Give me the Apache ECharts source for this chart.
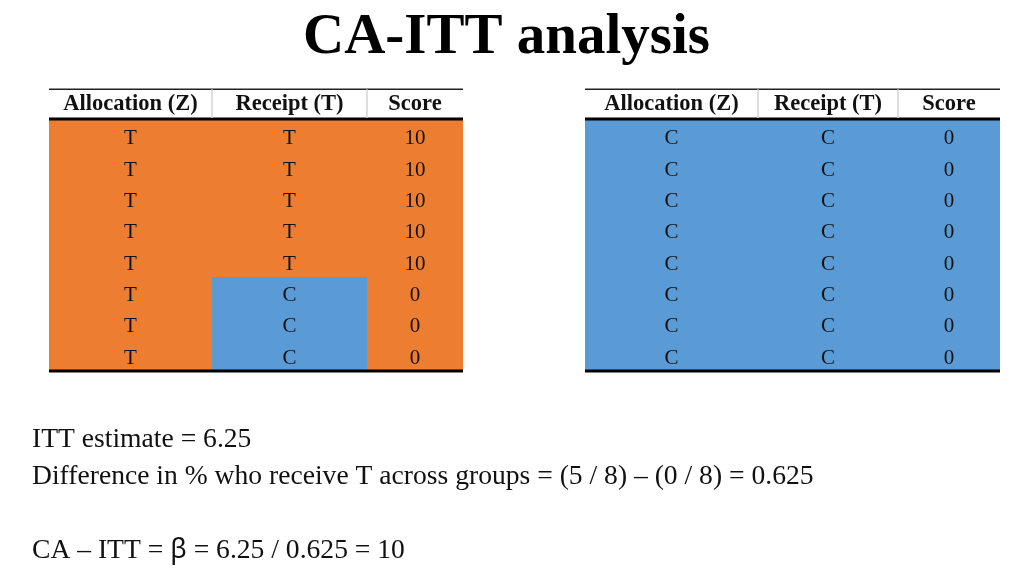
<!DOCTYPE html>
<html>
<head>
<meta charset="utf-8">
<script src="https://cdn.jsdelivr.net/npm/echarts@6/dist/echarts.min.js"></script>
<style>html,body{margin:0;padding:0;background:#fff;}#c{width:1024px;height:576px;}</style>
</head>
<body>
<div id="c"></div>
<script>
// ---------- data ----------
const titleText = 'CA-ITT analysis';
const headers = ['Allocation (Z)', 'Receipt (T)', 'Score'];
const rowLabels = ['1', '2', '3', '4', '5', '6', '7', '8'];
const leftAllocation = ['T', 'T', 'T', 'T', 'T', 'T', 'T', 'T'];
const leftReceipt = ['T', 'T', 'T', 'T', 'T', 'C', 'C', 'C'];
const leftScore = [10, 10, 10, 10, 10, 0, 0, 0];
const rightAllocation = ['C', 'C', 'C', 'C', 'C', 'C', 'C', 'C'];
const rightReceipt = ['C', 'C', 'C', 'C', 'C', 'C', 'C', 'C'];
const rightScore = [0, 0, 0, 0, 0, 0, 0, 0];
const noteLines = [
  'ITT estimate = 6.25',
  'Difference in % who receive T across groups = (5 / 8) – (0 / 8) = 0.625',
  '',
  'CA – ITT = β = 6.25 / 0.625 = 10'
];

// ---------- layout / style ----------
const FONT = '"Liberation Serif", "Times New Roman", serif';
const COLORS = { T: '#ED7D31', C: '#5B9BD5' };
const leftEdges = [0, 163 / 414, 318 / 414, 1];
const rightEdges = [0, 173 / 415, 313 / 415, 1];

function buildCells(alloc, receipt, score) {
  const cells = [];
  for (let r = 0; r < alloc.length; r++) {
    cells.push({ col: 0, row: r, text: alloc[r], key: alloc[r] });
    cells.push({ col: 1, row: r, text: receipt[r], key: receipt[r] });
    cells.push({ col: 2, row: r, text: String(score[r]), key: alloc[r] });
  }
  return cells;
}
const leftCells = buildCells(leftAllocation, leftReceipt, leftScore);
const rightCells = buildCells(rightAllocation, rightReceipt, rightScore);

function cellRenderer(edges, cells) {
  return function (params, api) {
    const c = cells[params.dataIndex];
    const x0 = Math.round(api.coord([edges[c.col], c.row])[0]);
    const x1 = Math.round(api.coord([edges[c.col + 1], c.row])[0]);
    const yc = api.coord([0, c.row])[1];
    const h = api.size([0, 1])[1];
    const y0 = Math.round(yc - h / 2), y1 = Math.round(yc + h / 2);
    return {
      type: 'group',
      children: [
        { type: 'rect', shape: { x: x0, y: y0, width: x1 - x0, height: y1 - y0 },
          style: { fill: COLORS[c.key] } },
        { type: 'text', z2: 10, style: { text: c.text, x: (x0 + x1) / 2, y: yc + 3, align: 'center', verticalAlign: 'middle',
          font: '21px ' + FONT, fill: '#111' } }
      ]
    };
  };
}

function headerRenderer(edges, nRows) {
  return function (params, api) {
    const col = params.dataIndex;
    const x0 = api.coord([edges[col], 0])[0];
    const x1 = api.coord([edges[col + 1], 0])[0];
    const h = api.size([0, 1])[1];
    const bodyTop = api.coord([0, 0])[1] - h / 2;
    const bodyBottom = api.coord([0, nRows - 1])[1] + h / 2;
    const headTop = bodyTop - h + 0.5;
    const children = [
      { type: 'text', style: { text: headers[col], x: (x0 + x1) / 2, y: (headTop + bodyTop) / 2, align: 'center',
        verticalAlign: 'middle', font: 'bold 22.5px ' + FONT, fill: '#111' } }
    ];
    if (col > 0) {
      children.push({ type: 'line', shape: { x1: x0, y1: headTop, x2: x0, y2: bodyTop - 2 },
        style: { stroke: '#d4d4d4', lineWidth: 1.5 } });
    }
    if (col === 0) {
      const L = api.coord([edges[0], 0])[0];
      const R = api.coord([edges[edges.length - 1], 0])[0];
      children.push({ type: 'line', shape: { x1: L, y1: headTop, x2: R, y2: headTop }, style: { stroke: '#222', lineWidth: 1.5 } });
      children.push({ type: 'line', shape: { x1: L, y1: bodyTop - 1, x2: R, y2: bodyTop - 1 }, style: { stroke: '#000', lineWidth: 3 } });
      children.push({ type: 'line', shape: { x1: L, y1: bodyBottom, x2: R, y2: bodyBottom }, style: { stroke: '#000', lineWidth: 3 } });
    }
    return { type: 'group', children };
  };
}

const chart = echarts.init(document.getElementById('c'), null, { renderer: 'canvas' });
const hiddenX = (i) => ({ type: 'value', gridIndex: i, min: 0, max: 1, show: false });
const hiddenY = (i) => ({ type: 'category', gridIndex: i, data: rowLabels, inverse: true, show: false });

chart.setOption({
  backgroundColor: '#fff',
  animation: false,
  title: [
    { text: titleText, left: 303, top: 10, padding: 0,
      textStyle: { fontFamily: FONT, fontSize: 57, fontWeight: 'bold', color: '#000', lineHeight: 57 } },
    { text: noteLines.join('\n').replace('β', '{b|β}'), left: 32, top: 421, padding: 0,
      textStyle: { fontFamily: FONT, fontSize: 27.6, fontWeight: 'normal', color: '#111', lineHeight: 37,
        rich: { b: { fontFamily: '"Noto Sans", "DejaVu Sans", sans-serif', fontSize: 27, color: '#111', lineHeight: 37 } } } }
  ],
  grid: [
    { left: 49, top: 120, width: 414, height: 251 },
    { left: 585, top: 120, width: 415, height: 251 }
  ],
  xAxis: [hiddenX(0), hiddenX(1)],
  yAxis: [hiddenY(0), hiddenY(1)],
  series: [
    { type: 'custom', xAxisIndex: 0, yAxisIndex: 0, z: 2, renderItem: cellRenderer(leftEdges, leftCells),
      data: leftCells.map(c => [c.col, c.row]), encode: { x: -1, y: 1 } },
    { type: 'custom', xAxisIndex: 1, yAxisIndex: 1, z: 2, renderItem: cellRenderer(rightEdges, rightCells),
      data: rightCells.map(c => [c.col, c.row]), encode: { x: -1, y: 1 } },
    { type: 'custom', xAxisIndex: 0, yAxisIndex: 0, z: 5, renderItem: headerRenderer(leftEdges, rowLabels.length),
      data: headers.map((h, i) => [i, 0]), encode: { x: -1, y: 1 } },
    { type: 'custom', xAxisIndex: 1, yAxisIndex: 1, z: 5, renderItem: headerRenderer(rightEdges, rowLabels.length),
      data: headers.map((h, i) => [i, 0]), encode: { x: -1, y: 1 } }
  ]
});
</script>
</body>
</html>
